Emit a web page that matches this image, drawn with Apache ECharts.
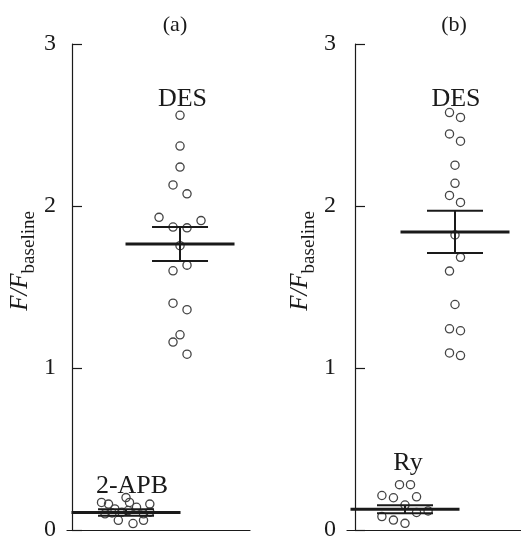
<!DOCTYPE html>
<html>
<head>
<meta charset="utf-8">
<script src="https://cdn.jsdelivr.net/npm/echarts@6/dist/echarts.min.js"></script>
<style>
html,body{margin:0;padding:0;background:#fff;}
#chart{width:521px;height:542px;}
</style>
</head>
<body>
<div id="chart"></div>
<script>
// ---------------- DATA ----------------
const yTicks = [0, 1, 2, 3];
const panelTitles = ['(a)', '(b)'];
const groupsA = ['2-APB', 'DES'];
const groupsB = ['Ry', 'DES'];

// panel (a) – 2-APB
const apbValues = [0.20, 0.17, 0.16, 0.17, 0.16, 0.13, 0.14, 0.10, 0.06, 0.04, 0.06, 0.11, 0.12, 0.10, 0.11, 0.105];
const apbSlots  = [0, -3.5, -2.5, 0.5, 3.4, -1.6, 1.5, -3, -1.1, 1, 2.5, -0.6, 0.3, 2.5, 3.4, -2];
// panel (a) – DES
const desAValues = [2.56, 2.37, 2.24, 2.13, 2.075, 1.93, 1.91, 1.87, 1.865, 1.755, 1.635, 1.60, 1.40, 1.36, 1.205, 1.16, 1.085];
const desASlots  = [0, 0, 0, -1, 1, -3, 3, -1, 1, 0, 1, -1, -1, 1, 0, -1, 1];
// panel (b) – Ry
const ryValues = [0.28, 0.28, 0.213, 0.199, 0.205, 0.154, 0.108, 0.118, 0.083, 0.061, 0.041];
const rySlots  = [-1, 1, -4.2, -2.1, 2.1, 0, 2.1, 4.2, -4.2, -2.1, 0];
// panel (b) – DES
const desBValues = [2.577, 2.547, 2.445, 2.40, 2.252, 2.14, 2.065, 2.022, 1.821, 1.683, 1.598, 1.392, 1.242, 1.23, 1.093, 1.077];
const desBSlots  = [-1, 1, -1, 1, 0, 0, -1, 1, 0, 1, -1, 0, -1, 1, -1, 1];

// mean ± SE
const meansA = [0.108, 1.765];
const seA    = [0.020, 0.105];
const meansB = [0.128, 1.84];
const seB    = [0.025, 0.13];

// ---------------- LAYOUT / STYLE ----------------
const FONT = '"Liberation Serif", "Times New Roman", serif';
const INK = '#1a1a1a';
const groupPos = [1, 2];
const slotPxA = 7, slotPxB = 5.5;
const labelLevelA = [0.268, 2.66];
const labelLevelB = [0.41, 2.66];
const labelDxA = [6, 2.5];
const labelDxB = [3, 1];
const meanHalf = 54.5, capHalf = 28;

function pointsData(values, slots, gi) {
  return values.map((v, i) => [groupPos[gi], v, slots[i]]);
}

function circleSeries(idx, data, slotPx) {
  return {
    type: 'custom', xAxisIndex: idx, yAxisIndex: idx, clip: false,
    encode: {x: 0, y: 1},
    data: data,
    renderItem: function (params, api) {
      const p = api.coord([api.value(0), api.value(1)]);
      return {
        type: 'circle',
        shape: {cx: p[0] + api.value(2) * slotPx, cy: p[1], r: 4.1},
        style: {fill: 'none', stroke: '#444', lineWidth: 1.3}
      };
    },
    z: 3
  };
}

function meanSeries(idx, means, ses) {
  return {
    type: 'custom', xAxisIndex: idx, yAxisIndex: idx, clip: false,
    encode: {x: 0, y: 1},
    data: means.map((m, i) => [groupPos[i], m, ses[i]]),
    renderItem: function (params, api) {
      const x = api.value(0), m = api.value(1), s = api.value(2);
      const pm = api.coord([x, m]);
      const pt = api.coord([x, m + s]);
      const pb = api.coord([x, m - s]);
      const ls = {stroke: INK, lineWidth: 2};
      return {
        type: 'group',
        children: [
          {type: 'line', shape: {x1: pm[0], y1: pt[1], x2: pm[0], y2: pb[1]}, style: ls},
          {type: 'line', shape: {x1: pm[0] - capHalf, y1: pt[1], x2: pm[0] + capHalf, y2: pt[1]}, style: ls},
          {type: 'line', shape: {x1: pm[0] - capHalf, y1: pb[1], x2: pm[0] + capHalf, y2: pb[1]}, style: ls},
          {type: 'line', shape: {x1: pm[0] - meanHalf, y1: pm[1], x2: pm[0] + meanHalf, y2: pm[1]}, style: {stroke: INK, lineWidth: 3}}
        ]
      };
    },
    z: 4
  };
}

function labelSeries(idx, names, levels, dx) {
  return {
    type: 'custom', xAxisIndex: idx, yAxisIndex: idx, clip: false,
    encode: {x: 0, y: 1},
    data: levels.map((l, i) => [groupPos[i], l]),
    renderItem: function (params, api) {
      const p = api.coord([api.value(0), api.value(1)]);
      return {
        type: 'text',
        style: {
          x: p[0] + dx[params.dataIndex], y: p[1],
          text: names[params.dataIndex],
          fill: INK, font: '26px ' + FONT,
          textAlign: 'center', textVerticalAlign: 'middle'
        }
      };
    },
    z: 5
  };
}

function yAxis(idx) {
  return {
    gridIndex: idx, type: 'value', min: 0, max: 3, interval: 1,
    axisLine: {show: true, lineStyle: {color: INK, width: 1.2}},
    axisTick: {show: true, inside: true, length: 10, lineStyle: {color: INK, width: 1.2}},
    axisLabel: {
      color: INK, fontFamily: FONT, fontSize: 24, margin: 11,
      formatter: v => yTicks.includes(v) ? String(v) : ''
    },
    splitLine: {show: false},
    name: '{m|F/F}{b|baseline}',
    nameLocation: 'middle', nameRotate: 90, nameGap: 28,
    nameTextStyle: {
      padding: [0, 0, 0, 52],
      rich: {
        m: {fontFamily: FONT, fontStyle: 'italic', fontSize: 25, color: INK, verticalAlign: 'bottom', padding: [0, 0, 6, 0]},
        b: {fontFamily: FONT, fontSize: 19, color: INK, verticalAlign: 'bottom'}
      }
    }
  };
}

function xAxis(idx, min, max) {
  return {
    gridIndex: idx, type: 'value', min: min, max: max,
    axisLine: {show: true, onZero: false, lineStyle: {color: INK, width: 1.2}},
    axisTick: {show: false}, axisLabel: {show: false}, splitLine: {show: false}
  };
}

const chart = echarts.init(document.getElementById('chart'), null, {renderer: 'canvas'});
chart.setOption({
  backgroundColor: '#fff',
  animation: false,
  grid: [
    {left: 67, top: 44, width: 183, height: 492},
    {left: 347, top: 44, width: 174, height: 492}
  ],
  xAxis: [xAxis(0, -0.093, 3.296), xAxis(1, -0.16, 3.32)],
  yAxis: [yAxis(0), yAxis(1)],
  graphic: [
    {type: 'text', x: 175, y: 25, style: {text: panelTitles[0], font: '22px ' + FONT, fill: INK, textAlign: 'center', textVerticalAlign: 'middle'}},
    {type: 'text', x: 454, y: 25, style: {text: panelTitles[1], font: '22px ' + FONT, fill: INK, textAlign: 'center', textVerticalAlign: 'middle'}}
  ],
  series: [
    circleSeries(0, pointsData(apbValues, apbSlots, 0), slotPxA),
    circleSeries(0, pointsData(desAValues, desASlots, 1), slotPxA),
    meanSeries(0, meansA, seA),
    labelSeries(0, groupsA, labelLevelA, labelDxA),
    circleSeries(1, pointsData(ryValues, rySlots, 0), slotPxB),
    circleSeries(1, pointsData(desBValues, desBSlots, 1), slotPxB),
    meanSeries(1, meansB, seB),
    labelSeries(1, groupsB, labelLevelB, labelDxB)
  ]
});
</script>
</body>
</html>
